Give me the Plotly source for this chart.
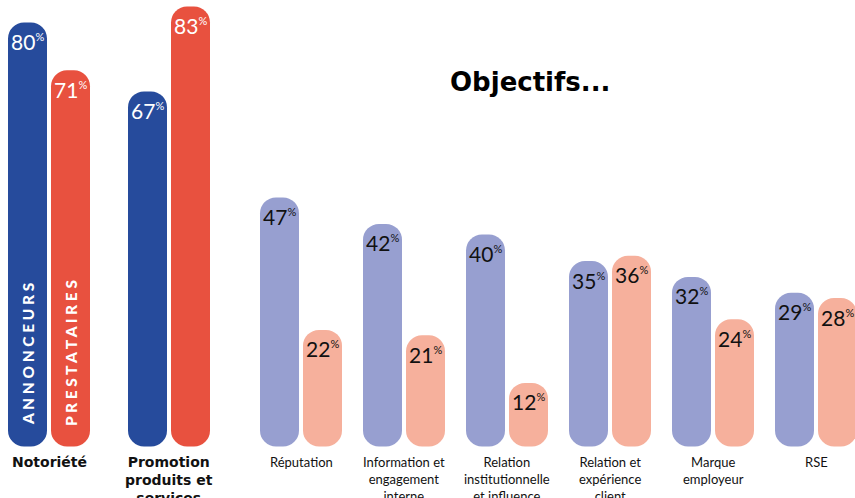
import plotly.graph_objects as go

# ---------------- data ----------------
cats_main = ["Notoriété", "Promotion<br>produits et<br>services"]
annonceurs_main = [80, 67]
prestataires_main = [71, 83]

cats_obj = ["Réputation", "Information et<br>engagement<br>interne",
            "Relation<br>institutionnelle<br>et influence",
            "Relation et<br>expérience<br>client", "Marque<br>employeur", "RSE"]
annonceurs_obj = [47, 42, 40, 35, 32, 29]
prestataires_obj = [22, 21, 12, 36, 24, 28]

series_names = ["ANNONCEURS", "PRESTATAIRES"]
title_text = "Objectifs..."

# ---------------- style ----------------
FONT = "Lato"
C_BLUE, C_RED = "#264b9c", "#e8513f"
C_LBLUE, C_SALMON = "#979fd0", "#f6b09c"
RADIUS = 16
W_PX, GAP_PX = 39, 4
SP1, SP2 = 120, 103   # px per category in each panel
FW, FH = 855, 498
D1, D2 = [0, 0.26], [0.27, 1]
C1, C2 = 49, 301      # pixel centre of the first category of each panel
ZERO_PX, K = 446.5, 5.3
LABEL_DROP = 19       # px between bar top and value label centre

fig = go.Figure()


def add_bars(xax, cats, vals, color, width, offset, name):
    n = len(cats)
    # explicit base -> plotly rounds both ends of the bar
    fig.add_trace(go.Bar(x=cats, y=vals, base=[0] * n,
                         width=[width] * n, offset=[offset] * n, xaxis=xax, yaxis="y",
                         marker=dict(color=color, line=dict(width=0), cornerradius=RADIUS),
                         name=name, showlegend=False, hoverinfo="skip"))


add_bars("x", cats_main, annonceurs_main, C_BLUE, W_PX / SP1, -(W_PX + GAP_PX / 2) / SP1, series_names[0])
add_bars("x", cats_main, prestataires_main, C_RED, W_PX / SP1, (GAP_PX / 2) / SP1, series_names[1])
add_bars("x2", cats_obj, annonceurs_obj, C_LBLUE, W_PX / SP2, -(W_PX + GAP_PX / 2) / SP2, series_names[0])
add_bars("x2", cats_obj, prestataires_obj, C_SALMON, W_PX / SP2, (GAP_PX / 2) / SP2, series_names[1])

ann = []
SHIFT = (W_PX + GAP_PX) / 2


def pct(v):
    return f"{v}<sup><span style='font-size:11px'>%</span></sup>"


for xr, cats, a_vals, p_vals, col in [("x", cats_main, annonceurs_main, prestataires_main, "white"),
                                      ("x2", cats_obj, annonceurs_obj, prestataires_obj, "#111111")]:
    for c, a, p in zip(cats, a_vals, p_vals):
        for v, sh in [(a, -SHIFT), (p, SHIFT)]:
            ann.append(dict(x=c, y=v - LABEL_DROP / K, xref=xr, yref="y", text=pct(v),
                            showarrow=False, xshift=sh, xanchor="center", yanchor="middle",
                            font=dict(family=FONT, size=21, color=col)))
        bold = xr == "x"
        ann.append(dict(x=c, y=0, xref=xr, yref="y", text=c, showarrow=False,
                        yshift=-5, xanchor="center", yanchor="top", align="center",
                        font=dict(family="DejaVu Sans" if bold else FONT,
                                  size=14 if bold else 13, color="#111111",
                                  weight="bold" if bold else "normal")))

# series labels inside the first pair of bars
for name, sh in zip(series_names, [-SHIFT, SHIFT]):
    ann.append(dict(x=cats_main[0], y=0, xref="x", yref="y", text=" ".join(name),
                    showarrow=False, textangle=-90, xshift=sh, yshift=93,
                    xanchor="center", yanchor="middle",
                    font=dict(family=FONT, size=15.5, color="white", weight=900)))

ann.append(dict(x=530 / FW, y=1 - 82 / FH, xref="paper", yref="paper", text=title_text,
                showarrow=False, xanchor="center", yanchor="middle",
                font=dict(family="DejaVu Sans", size=26, color="black", weight="bold")))

ymin = -(FH - ZERO_PX) / K
ymax = ymin + FH / K

fig.update_layout(
    width=FW, height=FH, margin=dict(l=0, r=0, t=0, b=0, autoexpand=False),
    paper_bgcolor="white", plot_bgcolor="white", barmode="overlay",
    showlegend=False, annotations=ann, hovermode=False,
    xaxis=dict(domain=D1, range=[-C1 / SP1, (D1[1] * FW - C1) / SP1], visible=False,
               type="category", fixedrange=True),
    xaxis2=dict(domain=D2, range=[-(C2 - D2[0] * FW) / SP2, (FW - C2) / SP2],
                visible=False, type="category", anchor="y", fixedrange=True),
    yaxis=dict(range=[ymin, ymax], visible=False, fixedrange=True),
)

fig.write_html("out.html", config={"displayModeBar": False},
               post_script="document.body.style.margin='0';document.body.style.overflow='hidden';")
